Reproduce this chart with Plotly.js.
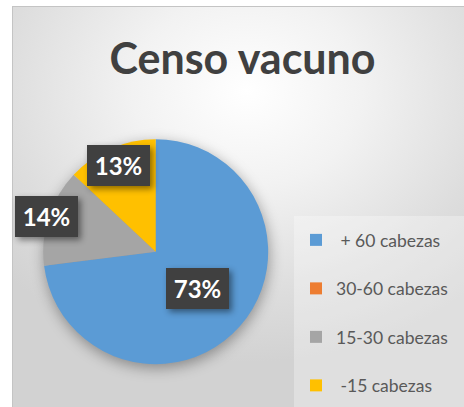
<!DOCTYPE html>
<html><head><meta charset="utf-8">
<script src="https://cdn.plot.ly/plotly-3.0.1.min.js"></script>
<style>
html,body{margin:0;padding:0;background:#fff;width:464px;height:407px;overflow:hidden;}
#frame{position:absolute;left:12px;top:6px;width:470px;height:420px;border:1px solid #c4c4c4;box-sizing:border-box;
 background: radial-gradient(ellipse 70% 65% at 50% 20%, #ffffff 0%, #f2f2f2 35%, #dddddd 75%, #d2d2d2 100%);}
#chart{position:absolute;left:0;top:0;width:464px;height:407px;}
.pielayer .trace{filter:drop-shadow(1px 4px 7px rgba(0,0,0,0.35));}
.annotation .bg{filter:drop-shadow(3px 3px 3px rgba(0,0,0,0.45));}
</style></head>
<body>
<div id="frame"></div>
<div id="chart"></div>
<script>
const categories = ['+ 60 cabezas', '30-60 cabezas', '15-30 cabezas', '-15 cabezas'];
const shares = [73, 0, 14, 13];
const sliceColors = ['#5B9BD5', '#ED7D31', '#A5A5A5', '#FFC000'];

// styling helpers (not data)
const labelRadius = [0.50, 0.7, 1.02, 0.83];
const legendPrefix = ['\u00a0', '', '', '\u00a0'];

const W = 464, H = 407;
const dom = {x: [0.0931, 0.5780], y: [0.1052, 0.6580]};
const cx = (dom.x[0] + dom.x[1]) / 2 * W;
const cy = (dom.y[0] + dom.y[1]) / 2 * H;
const r = Math.min((dom.x[1] - dom.x[0]) * W, (dom.y[1] - dom.y[0]) * H) / 2;
const total = shares.reduce((a, b) => a + b, 0);

let cum = 0;
const annotations = [];
shares.forEach((v, i) => {
  const mid = (cum + v / 2) / total * 2 * Math.PI;
  cum += v;
  if (v <= 0) return;
  const px = cx + r * labelRadius[i] * Math.sin(mid);
  const py = cy + r * labelRadius[i] * Math.cos(mid);
  annotations.push({
    xref: 'paper', yref: 'paper', x: px / W, y: py / H,
    xanchor: 'center', yanchor: 'middle', showarrow: false,
    text: Math.round(v / total * 100) + '%',
    bgcolor: '#404040', width: 63, height: 41, borderpad: 0, borderwidth: 0,
    font: {family: 'Lato', size: 24, color: '#ffffff', weight: 'bold'}
  });
});

const legendLabels = categories.map((c, i) => legendPrefix[i] + c + '<br> ');

const trace = {
  type: 'pie',
  labels: legendLabels,
  values: shares,
  sort: false,
  direction: 'clockwise',
  rotation: 0,
  textinfo: 'none',
  hoverinfo: 'percent',
  marker: {colors: sliceColors, line: {width: 0}},
  domain: dom
};

const layout = {
  width: W, height: H,
  margin: {l: 0, r: 0, t: 0, b: 0, autoexpand: false},
  paper_bgcolor: 'rgba(0,0,0,0)',
  plot_bgcolor: 'rgba(0,0,0,0)',
  title: {
    text: 'Censo vacuno',
    font: {family: 'Lato', size: 43, color: '#404040', weight: 'bold'},
    x: 242.5 / W, xanchor: 'center', xref: 'paper',
    y: 1 - 59 / H, yanchor: 'middle', yref: 'container'
  },
  showlegend: true,
  legend: {
    x: 296 / W, y: 1 - 222 / H, xanchor: 'left', yanchor: 'top',
    bgcolor: 'rgba(0,0,0,0)', borderwidth: 0, valign: 'top',
    font: {family: 'Lato', size: 17.5, color: '#595959'}
  },
  shapes: [{
    type: 'rect', xref: 'paper', yref: 'paper', layer: 'below',
    x0: 294 / W, x1: 1.02, y0: -0.02, y1: 1 - 216 / H,
    fillcolor: 'rgba(255,255,255,0.3)', line: {width: 0}
  }],
  annotations: annotations
};

Plotly.newPlot('chart', [trace], layout, {displayModeBar: false, staticPlot: true});
</script>
</body></html>
